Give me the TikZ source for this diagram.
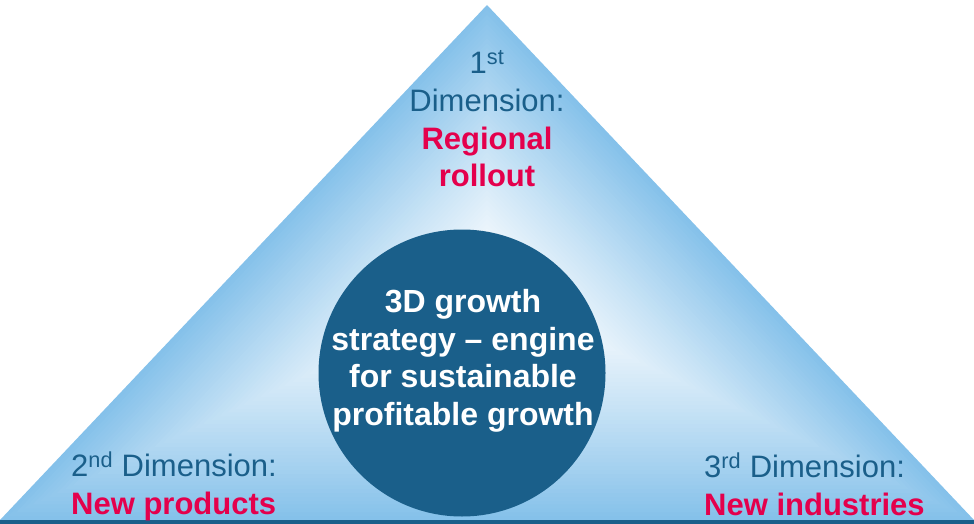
\documentclass[tikz,border=0pt]{standalone}
\usepackage{fontspec}
\setmainfont{Liberation Sans}
\usetikzlibrary{calc}
\definecolor{dimblue}{RGB}{26,95,138}
\definecolor{dimred}{RGB}{228,0,76}
\definecolor{skyedge}{RGB}{133,193,234}
\begin{document}
\begin{tikzpicture}[x=1pt,y=-1pt,
  dimtext/.style={align=center, inner sep=0pt, text=dimblue, font=\fontsize{31}{37.7}\selectfont},
  hubtext/.style={align=center, inner sep=0pt, text=white, font=\bfseries\fontsize{32}{37.5}\selectfont}]
  \useasboundingbox (0,0) rectangle (974,524);
  \coordinate (apex) at (487,5);
  \coordinate (left) at (0,520);
  \coordinate (right) at (974,520);
  \coordinate (mid) at (487,290);

  % shape-following gradient, outside in
  \foreach \i in {0,...,59} {
    \pgfmathsetmacro{\s}{1-\i/60}
    \pgfmathsetmacro{\w}{100*(1-\s^1.2)}
    \fill[white!\w!skyedge] ($(mid)!\s!(apex)$) -- ($(mid)!\s!(left)$) -- ($(mid)!\s!(right)$) -- cycle;
  }
  \coordinate (base-l) at (0,522);
  \coordinate (base-r) at (974,522);
  \draw[dimblue, line width=4pt] (base-l) -- (base-r);

  \node[circle, fill=dimblue, minimum size=287pt, inner sep=0pt] (0) at (462,373) {};
  \node[hubtext] (hub) at (463,361) {3D growth\\strategy – engine\\for sustainable\\profitable growth};

  \node[dimtext] (1) at (487,119) {1\textsuperscript{st}\\Dimension:\\{\color{dimred}\bfseries Regional}\\{\color{dimred}\bfseries rollout}};
  \node[dimtext, align=left, anchor=west] (2) at (71,486) {2\textsuperscript{nd} Dimension:\\{\color{dimred}\bfseries New products}};
  \node[dimtext, align=left, anchor=west] (3) at (704,484) {3\textsuperscript{rd} Dimension:\\{\color{dimred}\bfseries New industries}};
\end{tikzpicture}
\end{document}
